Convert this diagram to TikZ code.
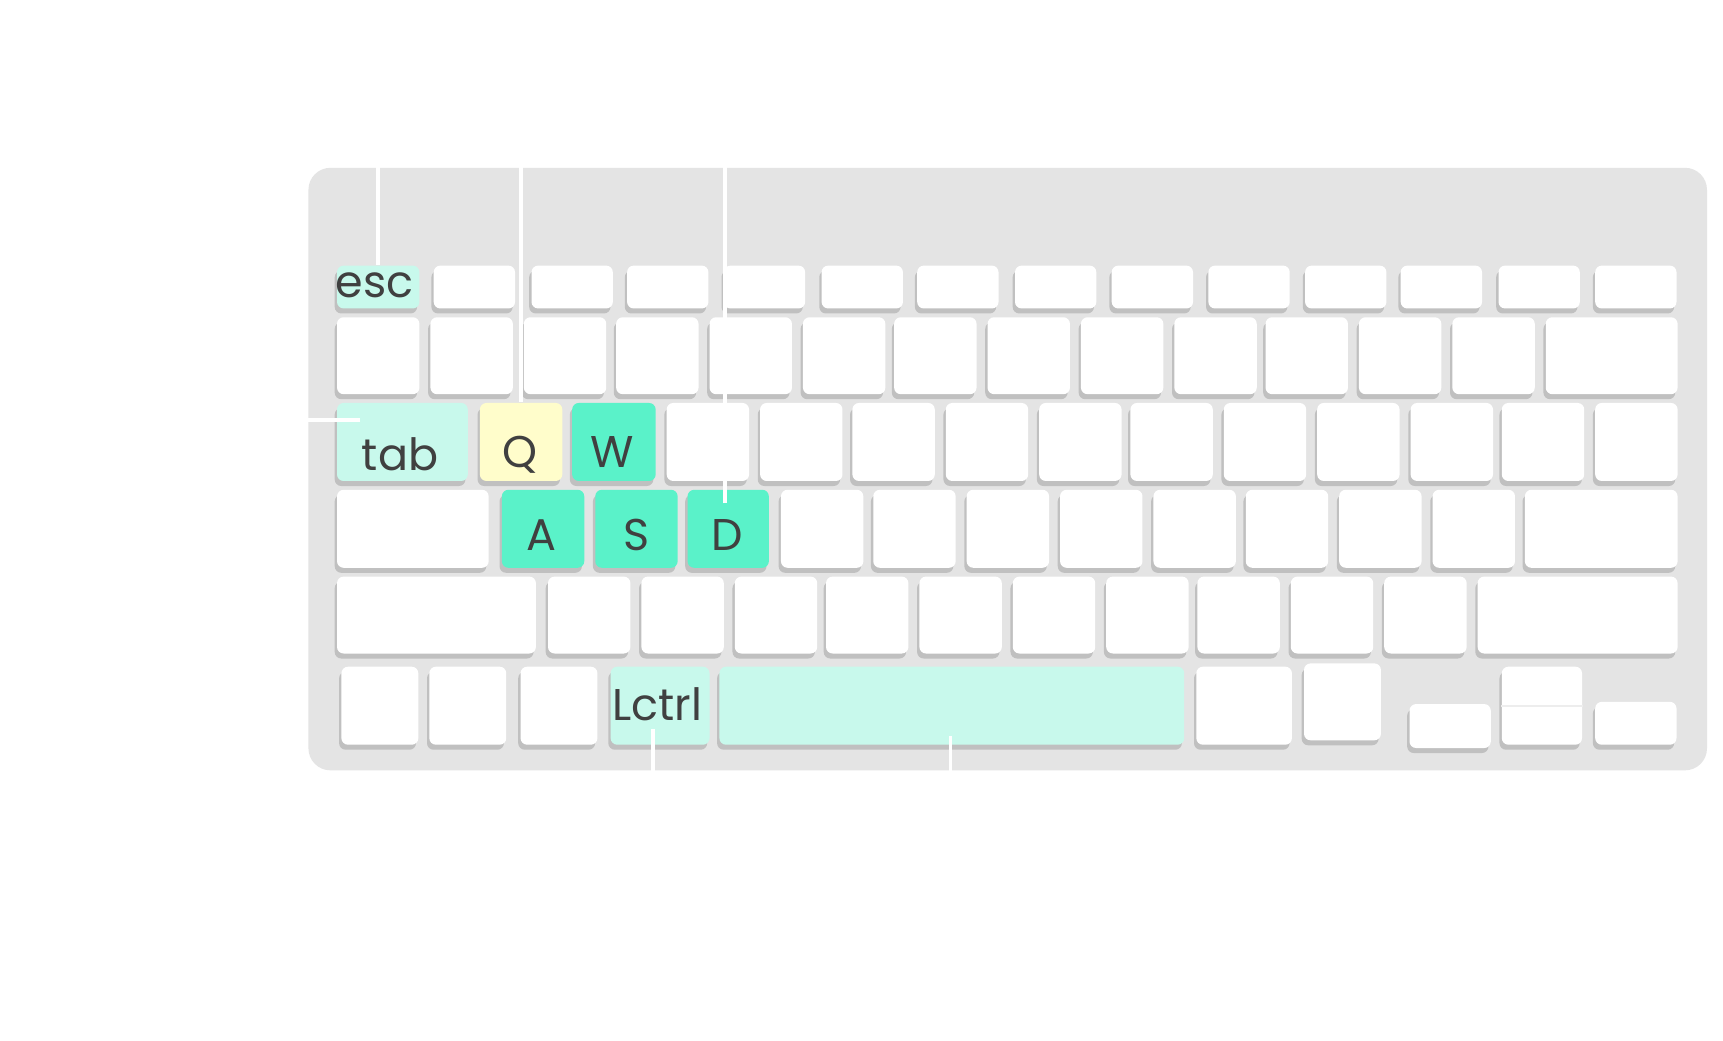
\documentclass[tikz,border=0pt]{standalone}
\usepackage{fontspec}
\setmainfont{Poppins}
\usepackage{tikz}
\usetikzlibrary{shadows, positioning}
\definecolor{kbgray}{HTML}{E4E4E4}
\definecolor{keyshade}{HTML}{C0C0C0}
\definecolor{mint}{HTML}{C8F9EC}
\definecolor{wasdgreen}{HTML}{5AF2C9}
\definecolor{cream}{HTML}{FFFDCB}
\definecolor{keyink}{HTML}{404040}

\begin{document}
\begin{tikzpicture}[x=0.01cm, y=-0.01cm,
  kbbody/.style={fill=kbgray, rounded corners=0.2cm, inner sep=0, anchor=north west},
  key/.style={fill=white, rounded corners=0.06cm, inner sep=0, anchor=north west,
    drop shadow={shadow xshift=-0.6pt, shadow yshift=-1.3pt, fill=keyshade, opacity=1}},
  keysize/.style 2 args={minimum width=#1*0.01cm, minimum height=#2*0.01cm},
  softkey/.style={key, fill=mint},
  wasd/.style={key, fill=wasdgreen},
  qkey/.style={key, fill=cream},
  keytext/.style={anchor=base, text=keyink, inner sep=0, font=\fontsize{11.5}{12}\selectfont},
  leader/.style={draw=white, line width=1pt}]
\useasboundingbox (0,0) rectangle (1568,947);
\fill[white] (0,0) rectangle (1568,947);
\node[kbbody, minimum width=12.72cm, minimum height=5.48cm] (body) at (280,152) {};
% function row
\node[softkey, keysize={75}{39}] (esc) at (306,241) {};
\foreach \x [count=\i] in {394,483,570,658,747,834,923,1011,1099,1187,1274,1363,1451}
  \node[key, keysize={74}{39}] (f\i) at (\x,241) {};
% number row
\foreach \x [count=\i] in {306,391,476,560,645,730,813,898,983,1068,1151,1236,1321}
  \node[key, keysize={75}{70}] (n\i) at (\x,288) {};
\node[key, keysize={120}{70}] (bksp) at (1406,288) {};
% top letter row
\node[softkey, keysize={119}{71}] (tab) at (306,366) {};
\node[qkey, keysize={75}{71}] (q) at (436,366) {};
\node[wasd, keysize={76}{71}] (w) at (520,366) {};
\foreach \x [count=\i] in {606,691,775,860,945,1028,1113,1198,1283,1366,1451}
  \node[key, keysize={75}{71}] (t\i) at (\x,366) {};
% home row
\node[key, keysize={138}{71}] (caps) at (306,445) {};
\node[wasd, keysize={75}{71}] (a) at (456,445) {};
\node[wasd, keysize={75}{71}] (s) at (541,445) {};
\node[wasd, keysize={74}{71}] (d) at (625,445) {};
\foreach \x [count=\i] in {710,794,879,964,1049,1133,1218,1303}
  \node[key, keysize={75}{71}] (h\i) at (\x,445) {};
\node[key, keysize={139}{71}] (enter) at (1387,445) {};
% bottom letter row
\node[key, keysize={181}{70}] (lshift) at (306,524) {};
\foreach \x [count=\i] in {498,583,668,751,836,921,1006,1089,1174,1259}
  \node[key, keysize={75}{70}] (b\i) at (\x,524) {};
\node[key, keysize={182}{70}] (rshift) at (1344,524) {};
% modifier row
\node[key, keysize={70}{71}] (fn) at (310,606) {};
\node[key, keysize={70}{71}] (ctrlkey) at (390,606) {};
\node[key, keysize={70}{71}] (alt) at (473,606) {};
\node[softkey, keysize={90}{71}] (lctrl) at (555,606) {};
\node[softkey, keysize={423}{71}] (space) at (654,606) {};
\node[key, keysize={87}{71}] (cmd) at (1088,606) {};
\node[key, keysize={70}{70}] (ralt) at (1186,603) {};
\node[key, keysize={74}{40}] (left) at (1282,640) {};
\node[key, keysize={73}{71}] (updown) at (1366,606) {};
\node[key, keysize={74}{39}] (right) at (1451,638) {};
\draw[black!7, line width=0.6pt] (updown.west) -- (updown.east);
% labels
\node[keytext] (esclbl) at (341,271) {esc};
\node[keytext] (tablbl) at (364,428) {tab};
\node[keytext] (qlbl) at (473,425) {Q};
\node[keytext] (wlbl) at (557,425) {W};
\node[keytext] (albl) at (493,501) {A};
\node[keytext] (slbl) at (579,501) {S};
\node[keytext] (dlbl) at (662,501) {D};
\node[keytext] (lctrllbl) at (598,656) {Lctrl};
% leader lines
\coordinate (tabtip) at (328,382);
\coordinate (dtip) at (660,458);
\coordinate (lctrltip) at (594,663);
\coordinate (spacetip) at (865,670);
\draw[leader] (esc.north) -- (esc.north |- body.north);
\draw[leader] (q.north) -- (q.north |- body.north);
\draw[leader] (dtip) -- (dtip |- body.north);
\draw[leader] (tabtip) -- (tabtip -| body.west);
\draw[leader] (lctrltip) -- (lctrltip |- body.south);
\draw[leader] (spacetip) -- (spacetip |- body.south);
\end{tikzpicture}
\end{document}
